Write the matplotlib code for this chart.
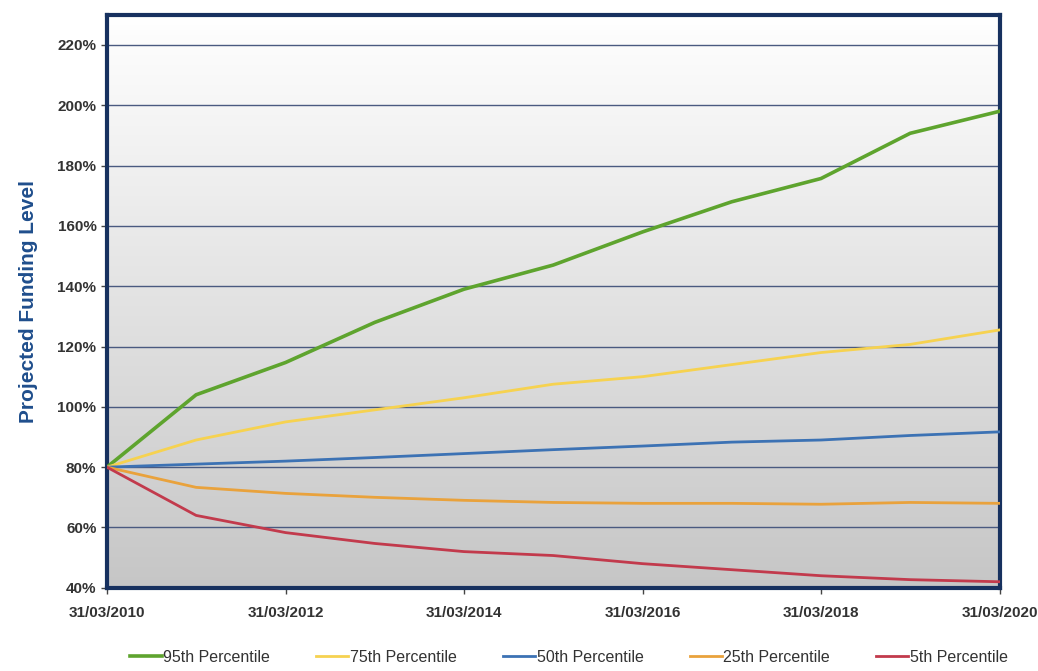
import numpy as np
import pandas as pd
import matplotlib
matplotlib.use("Agg")
import matplotlib.pyplot as plt
import matplotlib.dates as mdates
from matplotlib.ticker import FuncFormatter

plt.rcParams["font.family"] = ["Liberation Sans", "DejaVu Sans"]

# --- Daten ---
dates = pd.to_datetime([f"{y}-03-31" for y in range(2010, 2021)])
p95 = [80, 104, 114.7, 128, 139, 147, 158, 168, 175.7, 190.7, 198]
p75 = [80, 89, 95, 99, 103, 107.5, 110, 114, 118, 120.7, 125.5]
p50 = [80, 81, 82, 83.2, 84.5, 85.8, 87, 88.3, 89, 90.5, 91.7]
p25 = [80, 73.3, 71.3, 70, 69, 68.3, 68, 68, 67.7, 68.3, 68]
p5 = [80, 64, 58.3, 54.7, 52, 50.7, 48, 46, 44, 42.7, 42]

series = [
    ("95th Percentile", p95, "#5ea42e", 2.6),
    ("75th Percentile", p75, "#f6d250", 2.0),
    ("50th Percentile", p50, "#3c72b4", 2.0),
    ("25th Percentile", p25, "#e9a23c", 2.0),
    ("5th Percentile", p5, "#c23a4c", 2.0),
]

navy = "#17315f"

fig = plt.figure(figsize=(10.38, 6.71), dpi=100)
ax = fig.add_axes([0.103, 0.124, 0.86, 0.854])

# Hintergrund-Verlauf weiss -> grau
grad = np.linspace(1, 0, 256).reshape(-1, 1)
ax.imshow(grad, extent=[0, 1, 0, 1], transform=ax.transAxes, aspect="auto",
          cmap=matplotlib.colors.LinearSegmentedColormap.from_list("bg", ["#c6c6c6", "#ffffff"]),
          zorder=0)

for label, vals, col, lw in series:
    ax.plot(dates, np.array(vals) / 100, color=col, lw=lw, label=label, zorder=3,
            solid_joinstyle="round")

ax.set_ylim(0.4, 2.3)
ax.set_yticks(np.arange(0.4, 2.21, 0.2))
ax.yaxis.set_major_formatter(FuncFormatter(lambda v, p: f"{v*100:.0f}%"))
ax.set_xlim(dates[0], dates[-1])
ax.set_xticks(dates[::2])
ax.xaxis.set_major_formatter(mdates.DateFormatter("%d/%m/%Y"))

ax.grid(axis="y", color="#4a5a80", lw=1.0, zorder=1)
ax.set_axisbelow(True)
for s in ax.spines.values():
    s.set_color(navy)
    s.set_linewidth(3)

ax.tick_params(axis="both", colors="#444444", labelsize=11, length=4, width=1)
ax.tick_params(axis="x", pad=9)
for t in ax.get_xticklabels() + ax.get_yticklabels():
    t.set_fontweight("bold")
    t.set_color("#333333")

ax.set_ylabel("Projected Funding Level", fontsize=15, fontweight="bold", color="#1f4e8c", labelpad=14)

leg = fig.legend(loc="lower center", ncol=5, frameon=False, bbox_to_anchor=(0.548, -0.012),
                 fontsize=11.5, handlelength=2.0, columnspacing=2.9, handletextpad=0.1)
for t in leg.get_texts():
    t.set_color("#333333")

fig.savefig("out.png", dpi=100)
